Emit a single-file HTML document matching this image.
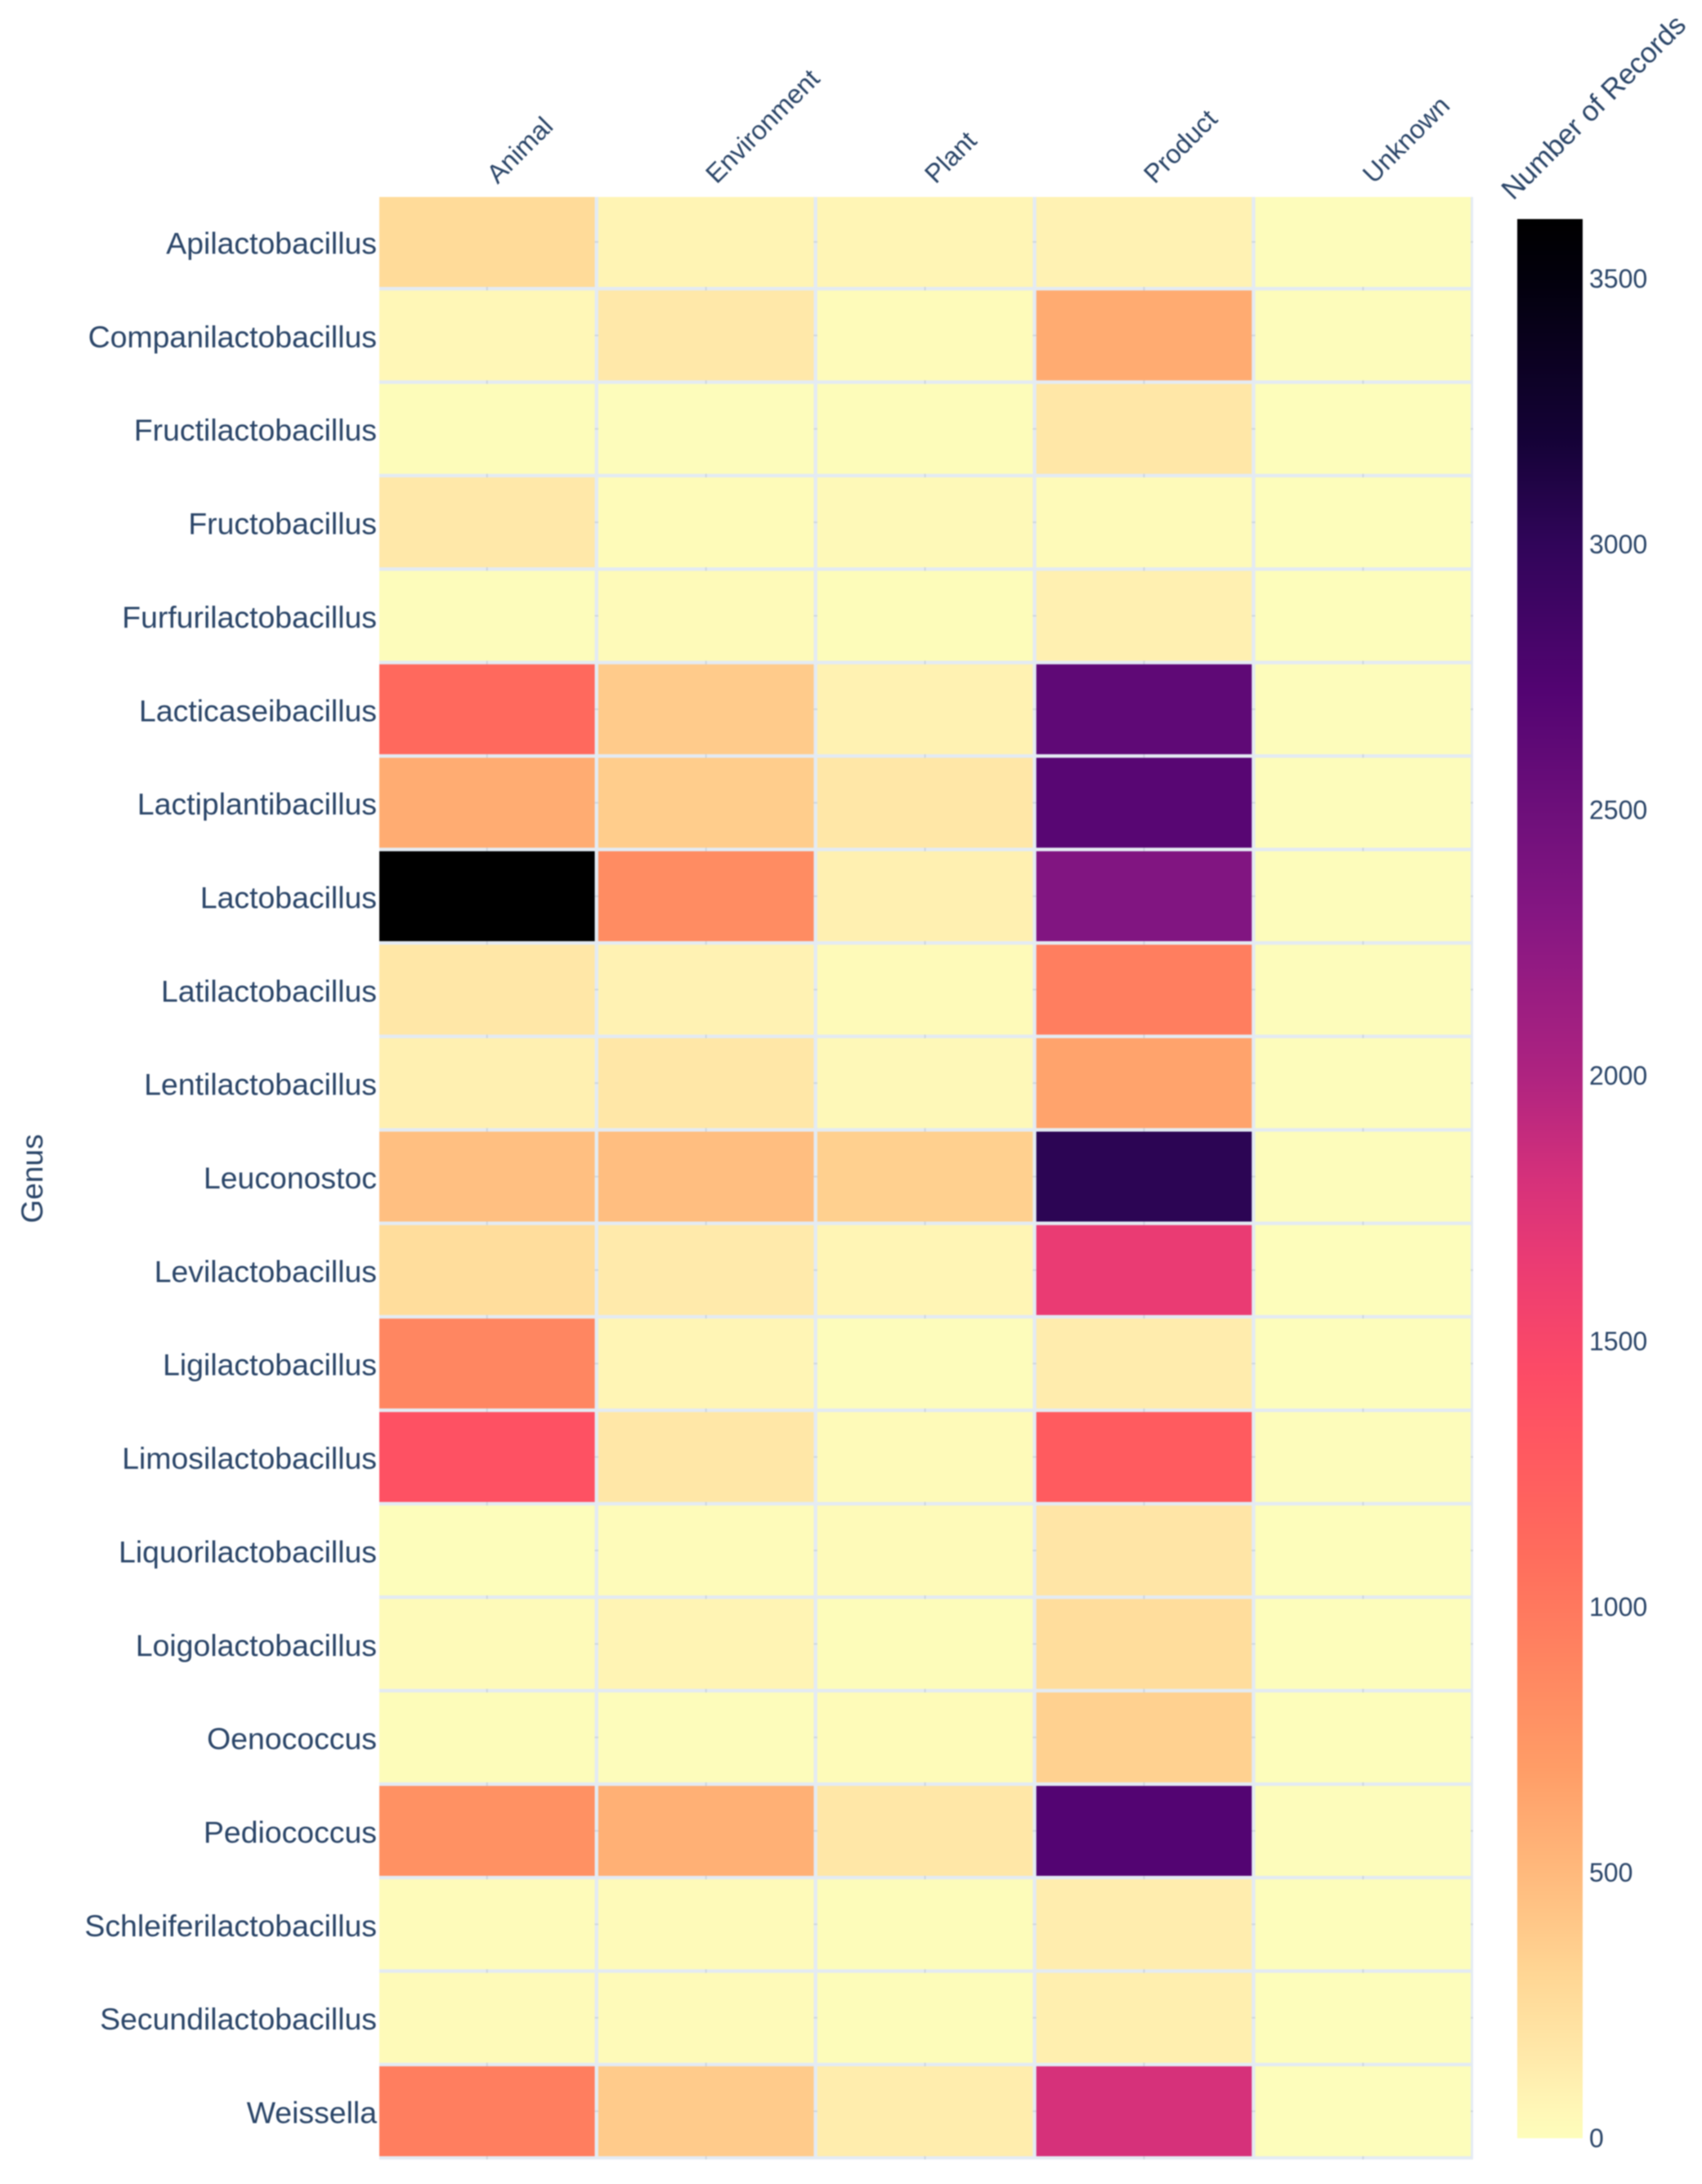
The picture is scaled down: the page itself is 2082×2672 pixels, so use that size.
<!DOCTYPE html>
<html lang="en">
<head>
<meta charset="utf-8">
<title>Number of Records by Genus and Source</title>
<style>
  html, body { margin: 0; padding: 0; background: #ffffff; }
  body { width: 2082px; height: 2672px; overflow: hidden; }
  #chart { display: block; filter: blur(0.7px); }
  text { font-family: "Liberation Sans", sans-serif; fill: #2a4568; }
</style>
</head>
<body>
<svg id="chart" xmlns="http://www.w3.org/2000/svg" width="2082" height="2672" viewBox="0 0 2082 2672">
  <defs>
    <linearGradient id="colorbar-gradient" x1="0" y1="1" x2="0" y2="0"></linearGradient>
  </defs>
  <rect x="0" y="0" width="2082" height="2672" fill="#ffffff"></rect>
  <rect x="464" y="241" width="1338" height="2401" fill="#e4ebf3"></rect>
  <g id="grid"></g>
  <g id="cells"></g>
  <g id="y-labels"></g>
  <g id="x-labels"></g>
  <text x="52" y="1442" font-size="37" text-anchor="middle" transform="rotate(-90 52 1442)">Genus</text>
  <rect x="1856" y="268" width="80" height="2348" fill="url(#colorbar-gradient)"></rect>
  <g id="colorbar-ticks"></g>
  <text x="0" y="0" font-size="34.8" transform="translate(1851 246) rotate(-45)">Number of Records</text>
</svg>
<script>
const genera = ["Apilactobacillus","Companilactobacillus","Fructilactobacillus","Fructobacillus","Furfurilactobacillus","Lacticaseibacillus","Lactiplantibacillus","Lactobacillus","Latilactobacillus","Lentilactobacillus","Leuconostoc","Levilactobacillus","Ligilactobacillus","Limosilactobacillus","Liquorilactobacillus","Loigolactobacillus","Oenococcus","Pediococcus","Schleiferilactobacillus","Secundilactobacillus","Weissella"];
const sources = ["Animal","Environment","Plant","Product","Unknown"];
const animalValues = [270,50,10,160,5,1130,590,3611,170,100,460,250,880,1370,4,22,8,790,15,22,950];
const environmentValues = [75,160,5,20,25,380,370,830,85,170,470,140,65,170,15,75,5,560,25,30,380];
const plantValues = [65,15,10,35,8,90,170,100,30,40,350,65,5,30,22,10,20,170,8,10,125];
const productValues = [85,600,170,25,100,2620,2680,2330,950,650,3030,1650,130,1270,180,250,340,2720,120,110,1800];
const unknownValues = [5,5,4,3,3,6,5,6,5,5,5,3,4,5,3,4,3,5,4,4,3];
const seriesValues = [animalValues, environmentValues, plantValues, productValues, unknownValues];
const colorbarTicks = [0,500,1000,1500,2000,2500,3000,3500];
const colorValues = [0,60,150,300,500,700,900,1100,1300,1450,1650,1800,2000,2300,2500,2720,3000,3200,3500,3611];
const colorHexes = ["#fdfdbb","#fff6b6","#ffe9aa","#ffd795","#ffb97c","#ff9c66","#ff8460","#ff6c5c","#ff5860","#fc4a66","#ea3b73","#d6317a","#ae2380","#851682","#6d0f7a","#530472","#300559","#140236","#02000c","#000000"];

const SVG_NS = "http://www.w3.org/2000/svg";
const plotLeft = 464, plotTop = 241, plotRight = 1802, plotBottom = 2642;
const colPitch = 267.9, rowPitch = 114.35, colGap = 4.4, rowGap = 4.35;
const barTop = 268, barBottom = 2616, zeroY = 2615.5, pxPerUnit = 0.65;

function xBand(i) { return plotLeft + i * colPitch; }
function yBand(i) { return plotTop + i * rowPitch; }
function barY(v) { return zeroY - v * pxPerUnit; }
function hexToRgb(h) {
  return [parseInt(h.slice(1,3),16), parseInt(h.slice(3,5),16), parseInt(h.slice(5,7),16)];
}
function colorFor(v) {
  const n = colorValues.length;
  if (v <= colorValues[0]) return colorHexes[0];
  if (v >= colorValues[n-1]) return colorHexes[n-1];
  for (let i = 1; i < n; i++) {
    if (v <= colorValues[i]) {
      const t = (v - colorValues[i-1]) / (colorValues[i] - colorValues[i-1]);
      const a = hexToRgb(colorHexes[i-1]), b = hexToRgb(colorHexes[i]);
      return "rgb(" + a.map((c, k) => Math.round(c + (b[k] - c) * t)).join(",") + ")";
    }
  }
  return colorHexes[n-1];
}
function make(tag, parent) {
  const el = document.createElementNS(SVG_NS, tag);
  parent.appendChild(el);
  return el;
}

const gridGroup = document.getElementById("grid");
const cellsGroup = document.getElementById("cells");
const yGroup = document.getElementById("y-labels");
const xGroup = document.getElementById("x-labels");
const tickGroup = document.getElementById("colorbar-ticks");
const gradient = document.getElementById("colorbar-gradient");

sources.forEach(function (name, c) {
  const line = make("line", gridGroup);
  const cx = xBand(c) + (colPitch - colGap) / 2;
  line.setAttribute("x1", cx);
  line.setAttribute("x2", cx);
  line.setAttribute("y1", plotTop);
  line.setAttribute("y2", plotBottom);
  line.setAttribute("stroke", "#cdd6e0");
  line.setAttribute("stroke-width", "2");
  
  
});

genera.forEach(function (name, r) {
  const line = make("line", gridGroup);
  const cy = yBand(r) + (rowPitch - rowGap) / 2;
  line.setAttribute("x1", plotLeft);
  line.setAttribute("x2", plotRight);
  line.setAttribute("y1", cy);
  line.setAttribute("y2", cy);
  line.setAttribute("stroke", "#cdd6e0");
  line.setAttribute("stroke-width", "2");
  
  
});

seriesValues.forEach(function (values, c) {
  values.forEach(function (v, r) {
    const cell = make("rect", cellsGroup);
    cell.setAttribute("x", xBand(c));
    cell.setAttribute("y", yBand(r));
    cell.setAttribute("width", colPitch - colGap);
    cell.setAttribute("height", rowPitch - rowGap);
    cell.setAttribute("fill", colorFor(v));
    
    
  });
});

genera.forEach(function (name, r) {
  const label = make("text", yGroup);
  label.textContent = name;
  label.setAttribute("x", 461);
  label.setAttribute("y", yBand(r) + (rowPitch - rowGap) / 2 + 14.5);
  label.setAttribute("font-size", "37.4");
  label.setAttribute("text-anchor", "end");
  
  
});

sources.forEach(function (name, c) {
  const label = make("text", xGroup);
  const cx = xBand(c) + (colPitch - colGap) / 2 + 13;
  label.textContent = name;
  label.setAttribute("font-size", "32.2");
  label.setAttribute("transform", "translate(" + cx + " 226) rotate(-45)");
  
  
});

colorValues.forEach(function (v, i) {
  const stop = make("stop", gradient);
  const zTop = (zeroY - barTop) / pxPerUnit;
  stop.setAttribute("offset", Math.min(1, v / zTop));
  stop.setAttribute("stop-color", colorHexes[i]);
});

colorbarTicks.forEach(function (v) {
  const label = make("text", tickGroup);
  label.textContent = String(v);
  label.setAttribute("x", 1944);
  label.setAttribute("y", barY(v) + 11.5);
  label.setAttribute("font-size", "32");
  
  
});
</script>
</body>
</html>
